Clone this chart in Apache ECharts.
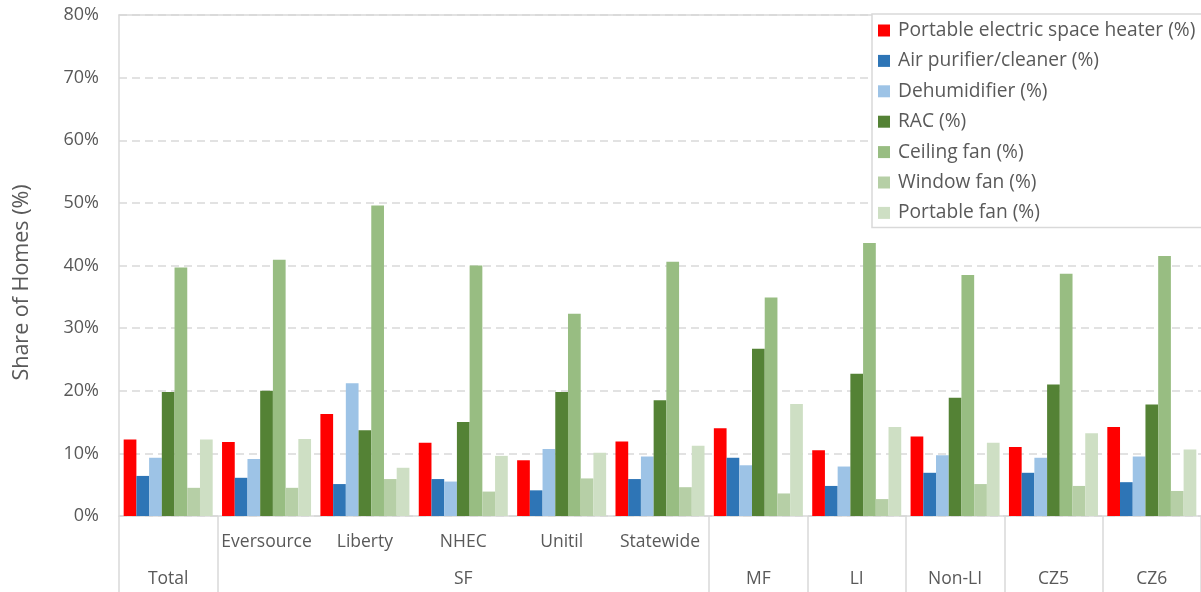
<!DOCTYPE html>
<html>
<head>
<meta charset="utf-8">
<script src="https://cdn.jsdelivr.net/npm/echarts@6/dist/echarts.min.js"></script>
<style>
html,body{margin:0;padding:0;background:#fff;}
#c{width:1201px;height:592px;}
</style>
</head>
<body>
<div id="c"></div>
<script>
// ---- data ----
const categories = ['Total','Eversource','Liberty','NHEC','Unitil','Statewide','MF','LI','Non-LI','CZ5','CZ6'];
const subLabels = ['', 'Eversource','Liberty','NHEC','Unitil','Statewide','','','','',''];
const groupNames = ['Total','SF','MF','LI','Non-LI','CZ5','CZ6'];
const groupStarts = [0,1,6,7,8,9,10];
const groupEnds = [1,6,7,8,9,10,11];
const seriesNames = ['Portable electric space heater (%)','Air purifier/cleaner (%)','Dehumidifier (%)','RAC (%)','Ceiling fan (%)','Window fan (%)','Portable fan (%)'];
const heater   = [12.2, 11.8, 16.3, 11.7,  8.9, 11.9, 14.0, 10.5, 12.7, 11.0, 14.2];
const purifier = [ 6.4,  6.1,  5.1,  5.9,  4.1,  5.9,  9.3,  4.8,  6.9,  6.9,  5.4];
const dehumid  = [ 9.3,  9.1, 21.2,  5.5, 10.7,  9.5,  8.1,  7.9,  9.7,  9.3,  9.5];
const rac      = [19.8, 20.0, 13.7, 15.0, 19.8, 18.5, 26.7, 22.7, 18.9, 21.0, 17.8];
const ceiling  = [39.7, 40.9, 49.6, 40.0, 32.3, 40.6, 34.9, 43.6, 38.5, 38.7, 41.5];
const windowFan= [ 4.5,  4.5,  5.9,  3.9,  6.0,  4.6,  3.6,  2.7,  5.1,  4.8,  4.0];
const portable = [12.2, 12.3,  7.7,  9.6, 10.1, 11.2, 17.9, 14.2, 11.7, 13.2, 10.6];
const yTicks = [0,10,20,30,40,50,60,70,80];

const seriesData = [heater, purifier, dehumid, rac, ceiling, windowFan, portable];
const colors = ['#FF0000','#2E75B6','#9DC3E6','#548235','#98BD82','#B6CFA6','#CEDFC4'];
const FONT = 'Open Sans';
const TXT = '#595959';
const LINE = '#D9D9D9';

const groupCenters = groupStarts.map((s,i)=>(s+groupEnds[i])/2);
const boundaries = [0].concat(groupEnds);

const chart = echarts.init(document.getElementById('c'));
chart.setOption({
  animation:false,
  textStyle:{fontFamily:FONT},
  grid:{left:119,right:0,top:15,bottom:76,containLabel:false},
  legend:{
    orient:'vertical', left:872, top:14,
    backgroundColor:'#fff', borderColor:LINE, borderWidth:1.5,
    padding:[7,12,5,6],
    itemWidth:12, itemHeight:12, itemGap:11.4,
    icon:'rect',
    textStyle:{fontFamily:FONT,fontSize:19.2,color:TXT,padding:[0,0,0,3]},
    data:seriesNames
  },
  xAxis:[
    {type:'category', data:categories, position:'bottom', gridIndex:0,
     axisLine:{show:true,onZero:false,lineStyle:{color:LINE,width:1.5}},
     axisTick:{show:false},
     axisLabel:{interval:0,margin:17,fontFamily:FONT,fontSize:17.5,color:TXT,
       formatter:(v,i)=>subLabels[i]}
    },
    {type:'value', min:0, max:categories.length, position:'bottom', gridIndex:0,
     axisLine:{show:false,onZero:false},
     splitLine:{show:false},
     axisTick:{show:true,length:76,customValues:boundaries,lineStyle:{color:LINE,width:1.5}},
     axisLabel:{margin:54,fontFamily:FONT,fontSize:17.5,color:TXT,customValues:groupCenters,
       formatter:(v)=>{const k=groupCenters.findIndex(c=>Math.abs(c-v)<1e-6);return k>=0?groupNames[k]:'';}}
    },
    {type:'category', data:categories, position:'top', gridIndex:0,
     axisLine:{show:true,onZero:false,lineStyle:{color:LINE,width:1.5}},
     axisTick:{show:false}, axisLabel:{show:false}}
  ],
  yAxis:{
    type:'value', min:0, max:80, interval:10,
    name:'Share of Homes (%)', nameLocation:'middle', nameGap:86,
    nameTextStyle:{fontFamily:FONT,fontSize:21.5,color:TXT,padding:[0,34,0,0]},
    axisLine:{show:true,lineStyle:{color:LINE,width:1.5}},
    axisTick:{show:false},
    axisLabel:{margin:20,fontFamily:FONT,fontSize:18,color:TXT,formatter:'{value}%'},
    splitLine:{show:true,lineStyle:{color:LINE,width:1.5,type:[8,5]}}
  },
  series: seriesNames.map((n,i)=>({
    name:n, type:'bar', xAxisIndex:0, data:seriesData[i],
    barGap:'0%', barCategoryGap:'9.5%',
    itemStyle:{color:colors[i]}
  }))
});
</script>
</body>
</html>
